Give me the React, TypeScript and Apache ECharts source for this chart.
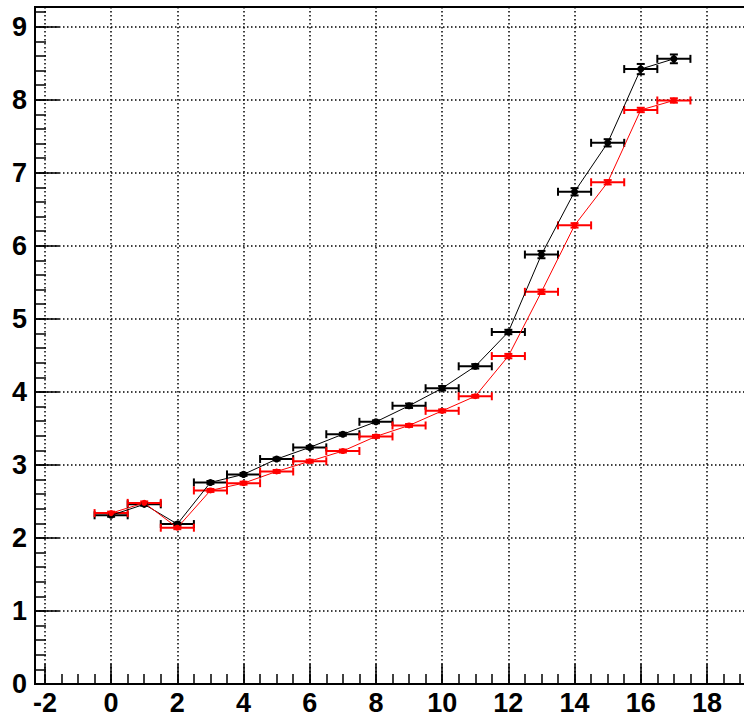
import React, { useEffect, useRef } from "react";
import * as echarts from "echarts";

// ---- data ----
const xValues = [0, 1, 2, 3, 4, 5, 6, 7, 8, 9, 10, 11, 12, 13, 14, 15, 16, 17];
const xErrors = [0.5, 0.5, 0.5, 0.5, 0.5, 0.5, 0.5, 0.5, 0.5, 0.5, 0.5, 0.5, 0.5, 0.5, 0.5, 0.5, 0.5, 0.5];
const blackValues = [2.31, 2.46, 2.19, 2.76, 2.87, 3.08, 3.24, 3.42, 3.59, 3.81, 4.05, 4.35, 4.82, 5.88, 6.74, 7.41, 8.42, 8.56];
const blackYErrors = [0.02, 0.02, 0.02, 0.02, 0.02, 0.02, 0.02, 0.02, 0.02, 0.03, 0.03, 0.03, 0.03, 0.05, 0.05, 0.05, 0.07, 0.06];
const redValues = [2.34, 2.48, 2.14, 2.65, 2.75, 2.91, 3.05, 3.19, 3.39, 3.54, 3.74, 3.94, 4.49, 5.37, 6.28, 6.87, 7.86, 7.99];
const redYErrors = [0.02, 0.02, 0.02, 0.02, 0.02, 0.02, 0.02, 0.02, 0.02, 0.02, 0.02, 0.02, 0.03, 0.03, 0.03, 0.03, 0.03, 0.03];

// ---- axes ----
const xTickLabels = [-2, 0, 2, 4, 6, 8, 10, 12, 14, 16, 18];
const yTickLabels = [0, 1, 2, 3, 4, 5, 6, 7, 8, 9];
const xMinorTicks: number[] = [];
for (let i = -4; i <= 38; i++) xMinorTicks.push(i * 0.5);
const yMinorTicks: number[] = [];
for (let i = 0; i <= 46; i++) yMinorTicks.push(Math.round(i * 2) / 10);

const X_MIN = -2.3;
const X_MAX = 19.3;
const Y_MIN = 0;
const Y_MAX = 9.27;

const font = {
  fontFamily: '"Liberation Sans", Arial, Helvetica, sans-serif',
  fontWeight: "bold" as const,
  fontSize: 27,
  lineHeight: 22,
  color: "#000",
};

function errorSeries(name: string, ys: number[], yErr: number[], color: string) {
  return {
    name: name + "-err",
    type: "custom",
    xAxisIndex: 0,
    yAxisIndex: 0,
    encode: { x: 0, y: 1 },
    z: 3,
    data: xValues.map((x, i) => [x, ys[i], xErrors[i], yErr[i]]),
    renderItem: (params: any, api: any) => {
      const x = api.value(0);
      const y = api.value(1);
      const ex = api.value(2);
      const ey = api.value(3);
      const l = api.coord([x - ex, y]);
      const r = api.coord([x + ex, y]);
      const t = api.coord([x, y + ey]);
      const b = api.coord([x, y - ey]);
      const style = { stroke: color, lineWidth: 2, fill: "none" };
      const cap = 4;
      const children: any[] = [
        { type: "line", shape: { x1: l[0], y1: l[1], x2: r[0], y2: r[1] }, style },
        { type: "line", shape: { x1: l[0], y1: l[1] - cap, x2: l[0], y2: l[1] + cap }, style },
        { type: "line", shape: { x1: r[0], y1: r[1] - cap, x2: r[0], y2: r[1] + cap }, style },
        { type: "line", shape: { x1: t[0], y1: t[1], x2: b[0], y2: b[1] }, style },
        { type: "line", shape: { x1: t[0] - cap, y1: t[1], x2: t[0] + cap, y2: t[1] }, style },
        { type: "line", shape: { x1: b[0] - cap, y1: b[1], x2: b[0] + cap, y2: b[1] }, style },
      ];
      return { type: "group", children };
    },
  };
}

function lineSeries(name: string, ys: number[], color: string, size: number) {
  return {
    name,
    type: "line",
    xAxisIndex: 0,
    yAxisIndex: 0,
    z: 4,
    data: xValues.map((x, i) => [x, ys[i]]),
    symbol: "circle",
    symbolSize: size,
    showSymbol: true,
    itemStyle: { color },
    lineStyle: { color, width: 1 },
  };
}

export default function App() {
  const ref = useRef<HTMLDivElement>(null);
  useEffect(() => {
    if (!ref.current) return;
    const chart = echarts.init(ref.current, undefined, { renderer: "svg" });
    const axisLineStyle = { color: "#000", width: 2 };
    const tickStyle = { color: "#000", width: 1.5 };
    const gridLineStyle = { color: "#000", width: 1.5, type: [1.5, 2.5] as any };
    const option: any = {
      animation: false,
      backgroundColor: "#fff",
      grid: {
        left: 35,
        top: 7,
        right: -6,
        bottom: 33,
        show: true,
        borderColor: "#000",
        borderWidth: 2,
        containLabel: false,
        outerBoundsMode: "none",
      },
      xAxis: [
        {
          type: "value",
          min: X_MIN,
          max: X_MAX,
          position: "bottom",
          axisLine: { show: true, onZero: false, lineStyle: axisLineStyle },
          axisTick: { show: true, inside: true, length: 20, customValues: xTickLabels, lineStyle: tickStyle },
          axisLabel: { show: true, customValues: xTickLabels, margin: 8, ...font },
          splitLine: { show: true, lineStyle: gridLineStyle },
          minorTick: { show: false },
        },
        {
          type: "value",
          min: X_MIN,
          max: X_MAX,
          position: "bottom",
          axisLine: { show: false, onZero: false },
          axisTick: { show: true, inside: true, length: 10, customValues: xMinorTicks, lineStyle: tickStyle },
          axisLabel: { show: false },
          splitLine: { show: false },
        },
      ],
      yAxis: [
        {
          type: "value",
          min: Y_MIN,
          max: Y_MAX,
          position: "left",
          axisLine: { show: true, onZero: false, lineStyle: axisLineStyle },
          axisTick: { show: true, inside: true, length: 24, customValues: yTickLabels, lineStyle: tickStyle },
          axisLabel: { show: true, customValues: yTickLabels, margin: 8, padding: [5, 0, 0, 0], ...font },
          splitLine: { show: true, lineStyle: gridLineStyle },
          minorTick: { show: false },
        },
        {
          type: "value",
          min: Y_MIN,
          max: Y_MAX,
          position: "left",
          axisLine: { show: false, onZero: false },
          axisTick: { show: true, inside: true, length: 11, customValues: yMinorTicks, lineStyle: tickStyle },
          axisLabel: { show: false },
          splitLine: { show: false },
        },
      ],
      series: [
        lineSeries("black", blackValues, "#000", 7),
        errorSeries("black", blackValues, blackYErrors, "#000"),
        lineSeries("red", redValues, "#ff0000", 6),
        errorSeries("red", redValues, redYErrors, "#ff0000"),
      ],
    };
    chart.setOption(option);
    return () => chart.dispose();
  }, []);
  return (
    <div
      ref={ref}
      style={{ position: "absolute", left: 0, top: 0, width: 744, height: 717 }}
    />
  );
}
